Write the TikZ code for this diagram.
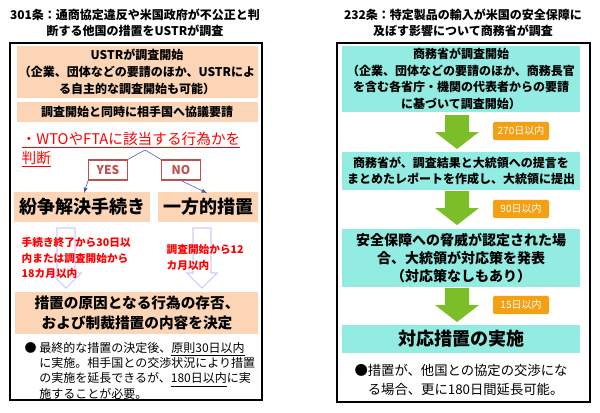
\documentclass[tikz,border=0pt]{standalone}
\usepackage{fontspec}
\setmainfont{Noto Sans CJK JP}
\usetikzlibrary{positioning}
\definecolor{peach}{RGB}{251,213,181}
\definecolor{aqua}{RGB}{147,236,226}
\definecolor{leaf}{RGB}{124,190,40}
\definecolor{amber}{RGB}{243,160,20}
\definecolor{redtxt}{RGB}{255,0,0}
\definecolor{yesno}{RGB}{192,80,77}
\tikzset{
  aquabox/.style={fill=aqua,inner sep=0pt},
  txt/.style={font=\fontsize{9}{12.5}\selectfont\bfseries,align=center},
  bigtxt/.style={font=\fontsize{13.5}{16}\selectfont\bfseries},
  redlab/.style={font=\fontsize{8}{11.5}\selectfont\bfseries,text=redtxt,align=left,anchor=north west},
  choice/.style={draw=yesno,thick,fill=white,text=yesno,font=\fontsize{9}{10}\selectfont\bfseries,minimum width=29pt,minimum height=15pt},
  daybox/.style={fill=amber,text=white,font=\fontsize{7.5}{9}\selectfont,minimum width=42pt,minimum height=13pt,rounded corners=1pt}
}
\newcommand{\greenarrow}[2]{% centre x, top y
  \fill[leaf] (#1-12,#2) -- (#1+12,#2) -- (#1+12,#2+17) -- (#1+22,#2+17) -- (#1,#2+34)
    -- (#1-22,#2+17) -- (#1-12,#2+17) -- cycle;}
\newcommand{\hollowarrow}[2]{% centre x, top y
  \draw[blue!20,thick] (#1-9,#2) -- (#1+9,#2) -- (#1+9,#2+45) -- (#1+15,#2+45) -- (#1,#2+60)
    -- (#1-15,#2+45) -- (#1-9,#2+45) -- cycle;}
\begin{document}
\begin{tikzpicture}[x=0.75pt,y=-0.75pt]
\useasboundingbox[fill=white] (0,0) rectangle (600,412);
% left panel
\node[txt,font=\fontsize{9}{12}\selectfont\bfseries] (ltitle) at (135,23) {301条：通商協定違反や米国政府が不公正と判\\断する他国の措置をUSTRが調査};
\draw[thick] (10,43) rectangle (262,400);
\fill[peach] (17,46) rectangle (258,98);
\node[txt] (lstart) at (137,72) {USTRが調査開始\\（企業、団体などの要請のほか、USTRによ\\る自主的な調査開始も可能）};
\fill[peach] (17,102) rectangle (258,122);
\node[txt] (lreq) at (137,112) {調査開始と同時に相手国へ協議要請};
\hollowarrow{66}{228}
\hollowarrow{202}{228}
\node[anchor=north west,align=left,text=redtxt,font=\fontsize{11}{14.5}\selectfont] (judge) at (17,127)
  {\underline{・WTOやFTAに該当する行為かを}\\\underline{判断}};
\coordinate (fork) at (145,150);
\node[choice] (yes) at (108,170) {YES};
\node[choice] (no) at (181,170) {NO};
\fill[peach] (14,192) rectangle (150,222);
\fill[peach] (158,192) rectangle (258,222);
\node[bigtxt] (dispute) at (82,207) {紛争解決手続き};
\node[bigtxt] (unilat) at (208,207) {一方的措置};
\draw[blue!60!black!70] (fork) -- (yes.north east);
\draw[blue!60!black!70] (fork) -- (no.north west);
\draw[blue!60!black!70,-latex] (yes.south west) -- (84,193);
\draw[blue!60!black!70,-latex] (no.south) -- (207,193);
\node[redlab] (lterm) at (17,233) {手続き終了から30日以\\内または調査開始から\\18カ月以内};
\node[redlab] (rterm) at (162,240) {調査開始から12\\カ月以内};
\fill[peach] (15,292) rectangle (258,334);
\node[txt,font=\fontsize{11}{15}\selectfont\bfseries] (decide) at (137,313) {措置の原因となる行為の存否、\\および制裁措置の内容を決定};
\node[anchor=north west,align=left,font=\fontsize{9}{11.3}\selectfont] (lnote) at (20,338)
  {●\ 最終的な措置の決定後、\underline{原則30日以内}\\\phantom{●\ }に実施。相手国との交渉状況により措置\\\phantom{●\ }の実施を延長できるが、\underline{180日以内}に実\\\phantom{●\ }施することが必要。};
% right panel
\node[txt,font=\fontsize{9}{12}\selectfont\bfseries] (rtitle) at (463,23) {232条：特定製品の輸入が米国の安全保障に\\及ぼす影響について商務省が調査};
\draw[thick] (337,43) rectangle (590,402);
\node[aquabox,minimum width=178pt,minimum height=49pt] (s1) at (461,79) {};
\node[txt] at (s1) {商務省が調査開始\\（企業、団体などの要請のほか、商務長官\\を含む各省庁・機関の代表者からの要請\\に基づいて調査開始）};
\greenarrow{457}{115}
\node[daybox] (d1) at (521,131) {270日以内};
\node[aquabox,minimum width=178pt,minimum height=29pt] (s2) at (461,171) {};
\node[txt] at (s2) {商務省が、調査結果と大統領への提言を\\まとめたレポートを作成し、大統領に提出};
\greenarrow{457}{191}
\node[daybox] (d2) at (521,209) {90日以内};
\node[aquabox,minimum width=178pt,minimum height=44pt] (s3) at (461,258) {};
\node[txt,font=\fontsize{10.5}{13.5}\selectfont\bfseries] at (s3) {安全保障への脅威が認定された場\\合、大統領が対応策を発表\\（対応策なしもあり）};
\greenarrow{457}{288}
\node[daybox] (d3) at (521,305) {15日以内};
\node[aquabox,minimum width=178pt,minimum height=21pt] (s4) at (461,339) {};
\node[bigtxt] at (s4) {対応措置の実施};
\node[txt,font=\fontsize{10}{14}\selectfont,align=left] (rnote) at (461,380) {●措置が、他国との協定の交渉にな\\\phantom{●}る場合、更に180日間延長可能。};
\end{tikzpicture}
\end{document}
